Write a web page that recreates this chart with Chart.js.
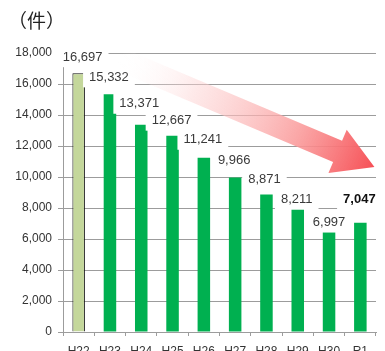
<!DOCTYPE html>
<html>
<head>
<meta charset="utf-8">
<script src="https://cdn.jsdelivr.net/npm/chart.js@4/dist/chart.umd.min.js"></script>
<style>
  html, body { margin: 0; padding: 0; background: #fff; overflow: hidden; width: 385px; height: 351px; }
  #wrap { position: relative; width: 385px; height: 362px; }
</style>
</head>
<body>
<div id="wrap"><canvas id="chart"></canvas></div>
<script>
// Fiscal years and yearly case counts
const categories = ['H22', 'H23', 'H24', 'H25', 'H26', 'H27', 'H28', 'H29', 'H30', 'R1'];
const cases = [16697, 15332, 13371, 12667, 11241, 9966, 8871, 8211, 6997, 7047];
const unitLabel = '（件）';
const yMin = 0;
const yMax = 18000;
const yStep = 2000;

// Placement of the value boxes relative to each bar top (pixels)
const labelLift = [16, 17, 21, 15, 18, 17, 15, 5, 1, 23];
const labelShiftX = [4, -1, -2, -1, -1, -1, -2, -1, 0, -1];

// Decorative trend arrow, anchored in data space (category index, value)
const arrowFrom = { x: 1.3, y: 17600 };
const arrowTo = { x: 9.45, y: 10650 };

const GRID = '#9c9c9c';
const FONT = '"Liberation Sans", Arial, sans-serif';
const fmt = v => Number(v).toLocaleString('en-US');

const unitTitle = {
  id: 'unitTitle',
  afterDraw(chart) {
    const ctx = chart.ctx;
    ctx.save();
    ctx.font = '19px "Noto Sans CJK JP", sans-serif';
    ctx.fillStyle = '#222';
    ctx.textAlign = 'left';
    ctx.textBaseline = 'middle';
    ctx.fillText(unitLabel, 8, 21);
    ctx.restore();
  }
};

const valueBoxes = {
  id: 'valueBoxes',
  afterDatasetsDraw(chart) {
    const ctx = chart.ctx;
    const meta = chart.getDatasetMeta(0);
    ctx.save();
    meta.data.forEach((bar, i) => {
      const text = fmt(cases[i]);
      const bold = i === cases.length - 1;
      ctx.font = (bold ? 'bold ' : '') + '13px ' + FONT;
      const w = ctx.measureText(text).width;
      const cx = bar.x + labelShiftX[i];
      const cy = bar.y - labelLift[i];
      ctx.fillStyle = '#fff';
      ctx.fillRect(cx - w / 2 - 6, cy - 10, w + 12, 20);
      ctx.fillStyle = bold ? '#111' : '#3a3a3a';
      ctx.textAlign = 'center';
      ctx.textBaseline = 'middle';
      ctx.fillText(text, cx, cy);
    });
    ctx.restore();
  }
};

const trendArrow = {
  id: 'trendArrow',
  afterDraw(chart) {
    const xs = chart.scales.x, ys = chart.scales.y;
    const sx = xs.getPixelForValue(arrowFrom.x), sy = ys.getPixelForValue(arrowFrom.y);
    const tx = xs.getPixelForValue(arrowTo.x), ty = ys.getPixelForValue(arrowTo.y);
    const len = Math.hypot(tx - sx, ty - sy);
    const ux = (tx - sx) / len, uy = (ty - sy) / len;
    const nx = -uy, ny = ux;
    const shaft = 11.5, head = 23.5, headLen = 40;
    const bx = tx - ux * headLen, by = ty - uy * headLen;
    const ctx = chart.ctx;
    ctx.save();
    const g = ctx.createLinearGradient(sx, sy, tx, ty);
    g.addColorStop(0, 'rgba(255,255,255,0)');
    g.addColorStop(0.3, 'rgba(253,210,210,0.5)');
    g.addColorStop(0.7, 'rgba(250,155,155,0.88)');
    g.addColorStop(1, 'rgba(246,80,86,1)');
    ctx.fillStyle = g;
    ctx.beginPath();
    ctx.moveTo(sx + nx * shaft, sy + ny * shaft);
    ctx.lineTo(bx + nx * shaft, by + ny * shaft);
    ctx.lineTo(bx + nx * head, by + ny * head);
    ctx.lineTo(tx, ty);
    ctx.lineTo(bx - nx * head, by - ny * head);
    ctx.lineTo(bx - nx * shaft, by - ny * shaft);
    ctx.lineTo(sx - nx * shaft, sy - ny * shaft);
    ctx.closePath();
    ctx.fill();
    ctx.restore();
  }
};

new Chart(document.getElementById('chart'), {
  type: 'bar',
  data: {
    labels: categories,
    datasets: [{
      data: cases,
      backgroundColor: ctx => ctx.dataIndex === 0 ? '#c4d79b' : '#00b050',
      borderColor: ctx => ctx.dataIndex === 0 ? '#111' : 'rgba(0,0,0,0)',
      borderWidth: ctx => ctx.dataIndex === 0 ? 1 : 0,
      borderSkipped: 'bottom',
      barPercentage: 0.4,
      categoryPercentage: 1.0
    }]
  },
  options: {
    responsive: true,
    maintainAspectRatio: false,
    animation: false,
    devicePixelRatio: 1,
    layout: { padding: { top: 53, right: 9, bottom: 0, left: 0 } },
    plugins: { legend: { display: false }, tooltip: { enabled: false }, title: { display: false } },
    scales: {
      x: {
        grid: { display: true, drawOnChartArea: false, drawTicks: true, tickLength: 4, offset: true, color: GRID },
        border: { display: true, color: GRID },
        ticks: { color: '#333', font: { family: FONT, size: 12 }, padding: 8, maxRotation: 0, autoSkip: false },
        afterFit: s => { s.height = 30; }
      },
      y: {
        min: yMin, max: yMax,
        grid: { color: GRID, tickLength: 5, drawTicks: true },
        border: { display: true, color: GRID },
        ticks: { stepSize: yStep, color: '#333', font: { family: FONT, size: 12 }, padding: 6, callback: v => fmt(v) },
        afterFit: s => { s.width = 63; }
      }
    }
  },
  plugins: [valueBoxes, trendArrow, unitTitle]
});
</script>
</body>
</html>
